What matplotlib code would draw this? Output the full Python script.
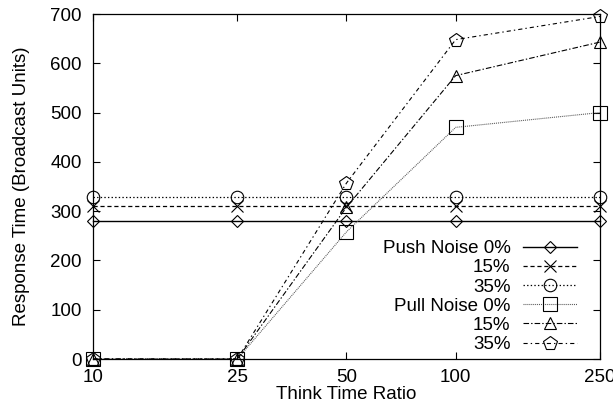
import matplotlib
matplotlib.use("Agg")
import matplotlib.pyplot as plt
from matplotlib.ticker import FixedLocator, FixedFormatter, NullLocator

plt.rcParams['font.family'] = ['Liberation Sans', 'DejaVu Sans']
plt.rcParams['lines.scale_dashes'] = False

# --- data ---
think_ratio = [10, 25, 50, 100, 250]
push_0 = [279, 279, 279, 279, 279]
push_15 = [310, 310, 310, 310, 310]
push_35 = [328, 328, 328, 328, 328]
pull_0 = [0, 0, 258, 470, 500]
pull_15 = [0, 0, 308, 575, 643]
pull_35 = [0, 0, 357, 648, 695]

labels = ['Push Noise 0%', '15%', '35%', 'Pull Noise 0%', '15%', '35%']
y_ticks = [0, 100, 200, 300, 400, 500, 600, 700]

FS = 13.5

fig = plt.figure(figsize=(6.13, 4.11), dpi=100)
ax = fig.add_axes([93 / 613, 1 - 359 / 411, 507 / 613, 345 / 411])

series = [
    (push_0, 'D', 6, '-', 'black', 1.0),
    (push_15, 'x', 9, (0, (3, 2)), 'black', 0.9),
    (push_35, 'o', 9, (0, (1, 1.6)), 'black', 0.9),
    (pull_0, 's', 10, (0, (0.7, 0.7)), '#555555', 0.8),
    (pull_15, '^', 9, (0, (4, 1.5, 1, 1.5)), 'black', 0.8),
    (pull_35, 'p', 10, (0, (3, 2.2, 1, 2.2)), 'black', 0.8),
]

for (vals, mk, ms, ls, col, lw), lab in zip(series, labels):
    ax.plot(think_ratio, vals, linestyle=ls, color=col, linewidth=lw,
            marker=mk, markersize=ms, markerfacecolor='none',
            markeredgecolor='black', markeredgewidth=0.8,
            label=lab, clip_on=False)

ax.set_xscale('log')
ax.set_xlim(10, 250)
ax.set_ylim(0, 700)
ax.xaxis.set_major_locator(FixedLocator(think_ratio))
ax.xaxis.set_major_formatter(FixedFormatter([str(v) for v in think_ratio]))
ax.xaxis.set_minor_locator(NullLocator())
ax.set_yticks(y_ticks)

ax.tick_params(axis='both', which='major', direction='in', length=5,
               width=0.8, top=True, right=True, labelsize=FS)
ax.tick_params(axis='y', pad=8)
ax.tick_params(axis='x', pad=7)

ax.set_xlabel('Think Time Ratio', fontsize=FS, labelpad=0)
ax.set_ylabel('Response Time (Broadcast Units)', fontsize=FS, labelpad=15)

for sp in ax.spines.values():
    sp.set_linewidth(0.9)

leg = ax.legend(loc='lower right', bbox_to_anchor=(0.955, 0.017),
                frameon=False, markerfirst=False, fontsize=FS,
                handlelength=2.9, handletextpad=0.65, labelspacing=0.11,
                borderpad=0, borderaxespad=0)

plt.savefig('out.png', dpi=100)
